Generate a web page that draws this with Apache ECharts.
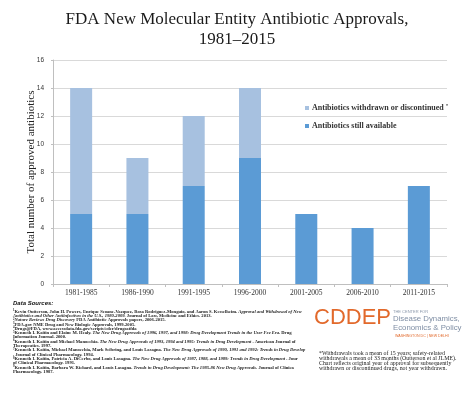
<!DOCTYPE html>
<html><head><meta charset="utf-8">
<script src="https://cdn.jsdelivr.net/npm/echarts@6/dist/echarts.min.js"></script>
<style>html,body{margin:0;padding:0;background:#fff}#c{width:474px;height:409px}</style>
</head><body><div id="c"></div>
<script>
const categories = ['1981-1985','1986-1990','1991-1995','1996-2000','2001-2005','2006-2010','2011-2015'];
const stillAvailable = [5, 5, 7, 9, 5, 4, 7];
const withdrawn = [9, 4, 5, 5, 0, 0, 0];
const yTicks = [0, 2, 4, 6, 8, 10, 12, 14, 16];
const titleLines = ['FDA New Molecular Entity Antibiotic Approvals,', '1981\u20132015'];
const legendNames = ['Antibiotics withdrawn or discontinued', 'Antibiotics still available'];
const sourceLines = [
  '{s|1}Kevin Outterson, John H. Powers, Enrique Seoane-Vazquez, Rosa Rodriguez-Monguio, and Aaron S. Kesselheim. {i|Approval and Withdrawal of New}',
  '{i|Antibiotics and Other Antiinfectives in the U.S., 1980-2009.} Journal of Law, Medicine and Ethics. 2013.',
  '{s|2}{i|Nature Reviews Drug Discovery} FDA Antibiotic Approvals papers, 2006-2015.',
  '{s|3}FDA.gov NME Drug and New Biologic Approvals, 1999-2005.',
  '{s|4}Drugs@FDA, www.accessdata.fda.gov/scripts/cder/drugsatfda',
  '{s|5}Kenneth I. Kaitin and Elaine M. Healy. {i|The New Drug Approvals of 1996, 1997, and 1998: Drug Development Trends in the User Fee Era.} Drug',
  'Information Journal. 2000.',
  '{s|6}Kenneth I. Kaitin and Michael Manocchia. {i|The New Drug Approvals of 1993, 1994 and 1995: Trends in Drug Development} . American Journal of',
  'Therapeutics. 1997.',
  '{s|7}Kenneth I. Kaitin, Michael Manocchia, Mark Seibring, and Louis Lasagna. {i|The New Drug Approvals of 1990, 1991 and 1992: Trends in Drug Develop}',
  '. Journal of Clinical Pharmacology. 1994.',
  '{s|8}Kenneth I. Kaitin, Patricia A. DiCerbo, and Louis Lasagna. {i|The New Drug Approvals of 1987, 1988, and 1989: Trends in Drug Development} . Jour',
  'of Clinical Pharmacology. 1991.',
  '{s|9}Kenneth I. Kaitin, Barbara W. Richard, and Louis Lasagna. {i|Trends in Drug Development: The 1985-86 New Drug Approvals.} Journal of Clinica',
  'Pharmacology. 1987.'
];
const noteLines = [
  '*Withdrawals took a mean of 15 years; safety-related',
  'withdrawals a mean of 33 months (Outterson et al JLME).',
  'Chart reflects original year of approval for subsequently',
  'withdrawn or discontinued drugs, not year withdrawn.'
];

const chart = echarts.init(document.getElementById('c'), null, {renderer: 'canvas'});
const serif = '"Liberation Serif", "DejaVu Serif", serif';
const graphics = [];
titleLines.forEach((t, i) => graphics.push({
  type: 'text', left: 'center', top: 11 + i * 20,
  style: {text: t, font: '17px ' + serif, fill: '#1a1a1a'}
}));
graphics.push({type: 'text', left: 13, top: 300,
  style: {text: 'Data Sources:', font: 'italic bold 6px "Liberation Sans", sans-serif', fill: '#111'}});
sourceLines.forEach((t, i) => graphics.push({
  type: 'text', left: 13, top: 309 + i * 4.3, z: 1,
  style: {text: t, font: 'bold 4.6px ' + serif, fill: '#222',
    rich: {i: {font: 'italic bold 4.6px ' + serif, fill: '#222'},
           s: {font: 'bold 3px ' + serif, fill: '#222', verticalAlign: 'top'}}}
}));
graphics.push({type: 'rect', left: 302, top: 305, shape: {width: 172, height: 40}, style: {fill: '#fff'}, z: 2});
graphics.push({type: 'text', left: 314, top: 307, z: 3,
  style: {text: 'CDDEP', font: '22px "Liberation Sans", sans-serif', fill: '#e2692b'}});
graphics.push({type: 'text', left: 393, top: 310, z: 3,
  style: {text: 'THE CENTER FOR', font: '4px "Liberation Sans", sans-serif', fill: '#8a97aa'}});
graphics.push({type: 'text', left: 393, top: 315, z: 3,
  style: {text: 'Disease Dynamics,', font: '7.8px "Liberation Sans", sans-serif', fill: '#7f8ea4'}});
graphics.push({type: 'text', left: 393, top: 323.5, z: 3,
  style: {text: 'Economics & Policy', font: '7.8px "Liberation Sans", sans-serif', fill: '#7f8ea4'}});
graphics.push({type: 'text', left: 395, top: 333.5, z: 3,
  style: {text: 'WASHINGTON DC | NEW DELHI', font: '3.6px "Liberation Sans", sans-serif', fill: '#e2692b'}});
noteLines.forEach((t, i) => graphics.push({
  type: 'text', left: 319, top: 350 + i * 5, z: 3,
  style: {text: t, font: '5.9px ' + serif, fill: '#222'}
}));

chart.setOption({
  backgroundColor: '#fff',
  animation: false,
  graphic: graphics,
  grid: {left: 53, right: 27, top: 60, bottom: 125},
  legend: {
    orient: 'vertical', left: 300, top: 98, itemWidth: 4, itemHeight: 4, itemGap: 10,
    icon: 'rect', data: legendNames,
    formatter: n => n === legendNames[0] ? n + '{s|*}' : n,
    textStyle: {fontSize: 8, fontFamily: 'Liberation Serif', fontWeight: 'bold', color: '#333', padding: [0, 0, 0, -2],
      rich: {s: {fontSize: 5, fontWeight: 'bold', verticalAlign: 'top', padding: [0, 0, 5, 2], color: '#333'}}}
  },
  xAxis: {
    type: 'category', data: categories,
    axisLine: {lineStyle: {color: '#bfbfbf'}},
    axisTick: {show: true, length: 3, lineStyle: {color: '#bfbfbf'}},
    axisLabel: {fontSize: 7.5, fontFamily: 'Liberation Serif', color: '#333', margin: 5}
  },
  yAxis: {
    type: 'value', min: 0, max: 16, interval: 2,
    name: 'Total number of approved antibiotics', nameLocation: 'middle', nameGap: 16,
    nameMoveOverlap: false,
    nameTextStyle: {fontSize: 11, fontFamily: 'Liberation Serif', color: '#222'},
    axisLine: {show: true, lineStyle: {color: '#bfbfbf'}},
    axisTick: {show: true, length: 2, lineStyle: {color: '#bfbfbf'}},
    axisLabel: {fontSize: 6.5, color: '#333', margin: 9, formatter: v => yTicks.includes(v) ? String(v) : ''},
    splitLine: {lineStyle: {color: '#d9d9d9'}}
  },
  series: [
    {name: legendNames[1], type: 'bar', stack: 'a', data: stillAvailable, barWidth: 22,
     itemStyle: {color: '#5b9bd5'}},
    {name: legendNames[0], type: 'bar', stack: 'a', data: withdrawn, barWidth: 22,
     itemStyle: {color: '#a7c1e0'}}
  ]
});
</script>
</body></html>
